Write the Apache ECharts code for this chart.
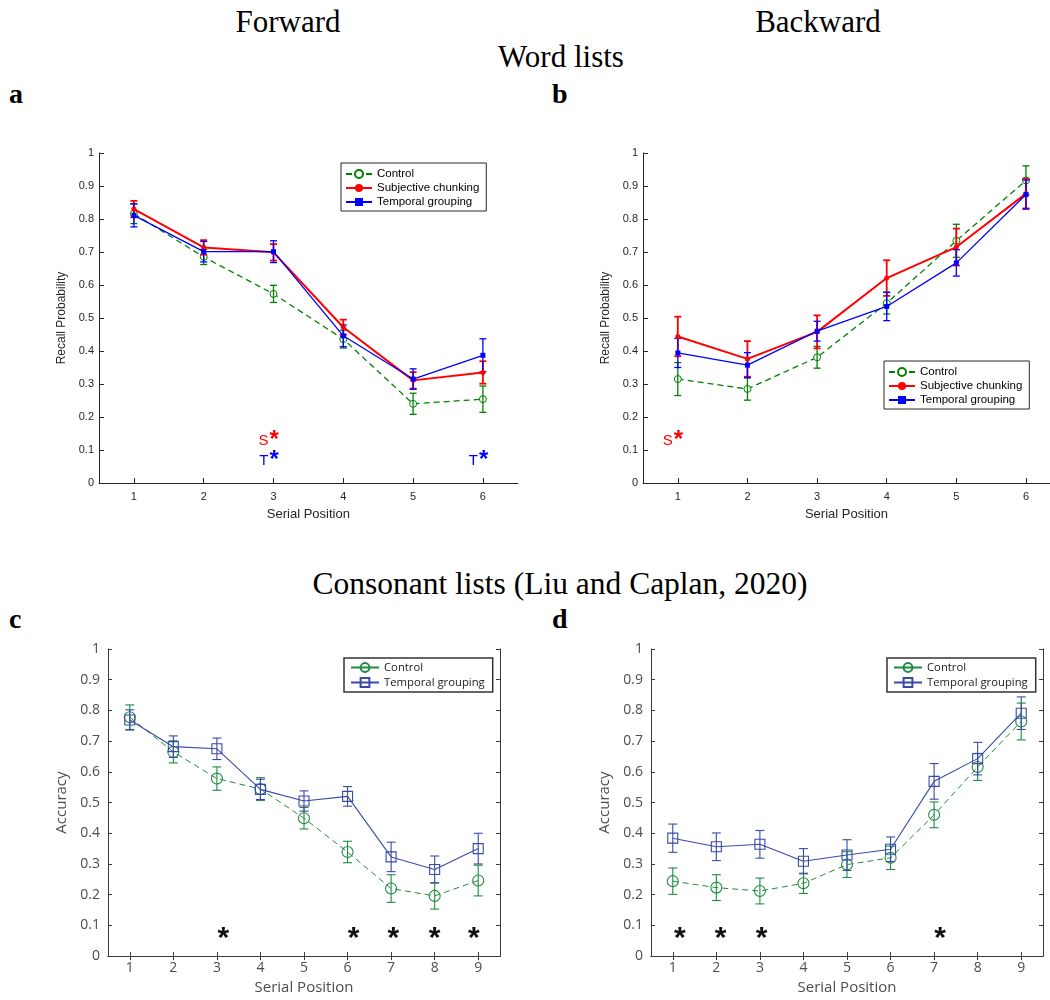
<!DOCTYPE html>
<html>
<head>
<meta charset="utf-8">
<script src="https://cdn.jsdelivr.net/npm/echarts@6/dist/echarts.min.js"></script>
<style>
body{margin:0;width:1050px;height:1000px;overflow:hidden;background:#fff;position:relative;}
.t{position:absolute;line-height:1;white-space:nowrap;color:#000;font-family:"Liberation Serif",serif;}
.lab{font-weight:bold;font-size:28px;}
.panel{position:absolute;}
</style>
</head>
<body>
<div class="t" style="left:188px;width:200px;text-align:center;top:6px;font-size:31px">Forward</div>
<div class="t" style="left:718px;width:200px;text-align:center;top:6px;font-size:31px">Backward</div>
<div class="t" style="left:361px;width:400px;text-align:center;top:41px;font-size:31px">Word lists</div>
<div class="t lab" style="left:9px;top:80px">a</div>
<div class="t lab" style="left:552px;top:80px">b</div>
<div class="t" style="left:160px;width:800px;text-align:center;top:568px;font-size:31.5px">Consonant lists (Liu and Caplan, 2020)</div>
<div class="t lab" style="left:9px;top:605px">c</div>
<div class="t lab" style="left:552px;top:605px">d</div>

<div id="panel_a" class="panel" style="left:0;top:130px;width:525px;height:400px"></div>
<div id="panel_b" class="panel" style="left:525px;top:130px;width:525px;height:400px"></div>
<div id="panel_c" class="panel" style="left:0;top:630px;width:525px;height:370px"></div>
<div id="panel_d" class="panel" style="left:525px;top:630px;width:525px;height:370px"></div>

<script>
// serial positions
var pos6 = [1, 2, 3, 4, 5, 6];
var pos9 = [1, 2, 3, 4, 5, 6, 7, 8, 9];

// word lists, forward
var fwdControl = [0.816, 0.685, 0.573, 0.436, 0.240, 0.254];
var fwdControlErr = [0.030, 0.023, 0.026, 0.027, 0.032, 0.040];
var fwdSubj = [0.830, 0.714, 0.699, 0.472, 0.311, 0.335];
var fwdSubjErr = [0.025, 0.022, 0.025, 0.023, 0.025, 0.034];
var fwdTemp = [0.811, 0.701, 0.701, 0.446, 0.315, 0.387];
var fwdTempErr = [0.035, 0.031, 0.033, 0.033, 0.031, 0.050];
var fwdSigS = [3];
var fwdSigT = [3, 6];

// word lists, backward
var bwdControl = [0.315, 0.285, 0.381, 0.545, 0.734, 0.917];
var bwdControlErr = [0.050, 0.034, 0.033, 0.033, 0.050, 0.044];
var bwdSubj = [0.444, 0.376, 0.458, 0.621, 0.715, 0.877];
var bwdSubjErr = [0.060, 0.054, 0.050, 0.054, 0.056, 0.045];
var bwdTemp = [0.394, 0.357, 0.460, 0.535, 0.667, 0.874];
var bwdTempErr = [0.044, 0.038, 0.030, 0.043, 0.040, 0.044];
var bwdSigS = [1];
var bwdSigT = [];

// consonant lists, forward
var consFwdControl = [0.778, 0.665, 0.578, 0.544, 0.449, 0.339, 0.220, 0.196, 0.246];
var consFwdControlErr = [0.040, 0.036, 0.038, 0.037, 0.035, 0.035, 0.045, 0.043, 0.050];
var consFwdTemp = [0.769, 0.682, 0.675, 0.543, 0.505, 0.520, 0.323, 0.282, 0.350];
var consFwdTempErr = [0.033, 0.035, 0.035, 0.033, 0.033, 0.032, 0.048, 0.044, 0.050];
var consFwdStars = [3.15, 6.14, 7.05, 8.0, 8.9];

// consonant lists, backward
var consBwdControl = [0.244, 0.223, 0.212, 0.237, 0.298, 0.320, 0.460, 0.616, 0.764];
var consBwdControlErr = [0.043, 0.042, 0.042, 0.033, 0.042, 0.038, 0.042, 0.044, 0.060];
var consBwdTemp = [0.384, 0.356, 0.364, 0.309, 0.329, 0.348, 0.569, 0.643, 0.791];
var consBwdTempErr = [0.046, 0.045, 0.045, 0.041, 0.050, 0.040, 0.058, 0.053, 0.053];
var consBwdStars = [1.16, 2.1, 3.04, 7.14];

var GREEN = '#008000', RED = '#ff0000', BLUE = '#0000ff';
var GREEN2 = '#1e8c40', BLUE2 = '#3a4aa8';
var SANS = '"Liberation Sans", Arial, sans-serif';
var SANS2 = '"Open Sans", "Noto Sans", sans-serif';

function pairs(xs, ys) {
    return xs.map(function (x, i) { return [x, ys[i]]; });
}

// error bars drawn through the axes
function errSeries(xs, ys, errs, color, width, cap) {
    return {
        type: 'custom',
        silent: true,
        encode: { x: 0, y: [1, 2] },
        data: xs.map(function (x, i) { return [x, ys[i] - errs[i], ys[i] + errs[i]]; }),
        renderItem: function (params, api) {
            var lo = api.coord([api.value(0), api.value(1)]);
            var hi = api.coord([api.value(0), api.value(2)]);
            var st = { stroke: color, lineWidth: width };
            return {
                type: 'group',
                children: [
                    { type: 'line', shape: { x1: lo[0], y1: lo[1], x2: hi[0], y2: hi[1] }, style: st },
                    { type: 'line', shape: { x1: lo[0] - cap, y1: lo[1], x2: lo[0] + cap, y2: lo[1] }, style: st },
                    { type: 'line', shape: { x1: hi[0] - cap, y1: hi[1], x2: hi[0] + cap, y2: hi[1] }, style: st }
                ]
            };
        },
        z: 3
    };
}

// "S*" / "T*" significance marks (word lists)
function sigSeries(xs, letter, level, color) {
    return {
        type: 'custom',
        silent: true,
        data: xs.map(function (x) { return [x, level]; }),
        renderItem: function (params, api) {
            var c = api.coord([api.value(0), api.value(1)]);
            return {
                type: 'group',
                children: [
                    { type: 'text', x: c[0] - 5, y: c[1] - 13, style: { text: letter, fill: color, font: '15px ' + SANS, align: 'right', verticalAlign: 'top' } },
                    { type: 'text', x: c[0] - 4, y: c[1] - 18, style: { text: '*', fill: color, font: 'bold 24px ' + SANS, align: 'left', verticalAlign: 'top' } }
                ]
            };
        },
        z: 5
    };
}

// black stars (consonant lists)
function starSeries(xs, level) {
    return {
        type: 'custom',
        silent: true,
        data: xs.map(function (x) { return [x, level]; }),
        renderItem: function (params, api) {
            var c = api.coord([api.value(0), api.value(1)]);
            return {
                type: 'text', x: c[0], y: c[1] - 6,
                style: { text: '*', fill: '#111', font: 'bold 30px ' + SANS, align: 'center', verticalAlign: 'top' }
            };
        },
        z: 5
    };
}

function wordOption(xMax, legendPos, ctl, ctlErr, subj, subjErr, temp, tempErr, sigS, sigT, gridLeft) {
    var axisCol = '#262626';
    return {
        animation: false,
        grid: { left: gridLeft, top: 23, width: (xMax - 0.5) * 69.8, height: 330 },
        xAxis: {
            type: 'value', min: 0.5, max: xMax,
            name: 'Serial Position', nameLocation: 'middle', nameGap: 25,
            nameTextStyle: { fontSize: 13, color: axisCol, fontFamily: SANS },
            axisLine: { show: true, lineStyle: { color: axisCol, width: 1 } },
            axisTick: { show: true, inside: true, length: 5, customValues: pos6, lineStyle: { color: axisCol } },
            axisLabel: { customValues: pos6, fontSize: 11, color: axisCol, fontFamily: SANS, margin: 8 },
            splitLine: { show: false }
        },
        yAxis: {
            type: 'value', min: 0, max: 1, interval: 0.1,
            name: 'Recall Probability', nameLocation: 'middle', nameGap: 21,
            nameTextStyle: { fontSize: 12, color: axisCol, fontFamily: SANS },
            axisLine: { show: true, lineStyle: { color: axisCol, width: 1 } },
            axisTick: { show: true, inside: true, length: 5, lineStyle: { color: axisCol } },
            axisLabel: { fontSize: 11, color: axisCol, fontFamily: SANS, margin: 5 },
            splitLine: { show: false }
        },
        legend: {
            left: legendPos[0], top: legendPos[1], orient: 'vertical',
            itemWidth: 26, itemHeight: 10, itemGap: 2, padding: [5, 7, 3, 4],
            borderColor: axisCol, borderWidth: 1, backgroundColor: '#fff',
            textStyle: { fontSize: 11.5, color: '#000', fontFamily: SANS },
            data: ['Control', 'Subjective chunking', 'Temporal grouping']
        },
        series: [
            { name: 'Control', type: 'line', data: pairs(pos6, ctl), symbol: 'circle', symbolSize: 7,
              itemStyle: { color: '#fff', borderColor: GREEN, borderWidth: 1 },
              lineStyle: { color: GREEN, width: 1.3, type: [6, 4] }, z: 2 },
            errSeries(pos6, ctl, ctlErr, GREEN, 1.3, 3.5),
            { name: 'Subjective chunking', type: 'line', data: pairs(pos6, subj), symbol: 'circle', symbolSize: 5,
              itemStyle: { color: RED }, lineStyle: { color: RED, width: 2 }, z: 3 },
            errSeries(pos6, subj, subjErr, RED, 1.8, 3.5),
            { name: 'Temporal grouping', type: 'line', data: pairs(pos6, temp), symbol: 'rect', symbolSize: 5,
              itemStyle: { color: BLUE }, lineStyle: { color: BLUE, width: 1.3 }, z: 4 },
            errSeries(pos6, temp, tempErr, BLUE, 1.3, 3.5),
            sigSeries(sigS, 'S', 0.112, RED),
            sigSeries(sigT, 'T', 0.05, BLUE)
        ]
    };
}

function consOption(gridLeft, legendPos, ctl, ctlErr, temp, tempErr, stars) {
    var axisCol = '#3a3a3a', labCol = '#4d4d4d';
    return {
        animation: false,
        grid: { left: gridLeft, top: 19, width: 392, height: 310 },
        xAxis: [{
            type: 'value', min: 0.5, max: 9.5,
            name: 'Serial Position', nameLocation: 'middle', nameGap: 22,
            nameTextStyle: { fontSize: 15, color: labCol, fontFamily: SANS2 },
            axisLine: { show: true, lineStyle: { color: axisCol, width: 1 } },
            axisTick: { show: true, inside: true, length: 4, customValues: pos9, lineStyle: { color: axisCol } },
            axisLabel: { customValues: pos9, fontSize: 14, color: labCol, fontFamily: SANS2, margin: 5 },
            splitLine: { show: false }
        }, {
            type: 'value', min: 0.5, max: 9.5, position: 'top',
            axisLine: { show: true, lineStyle: { color: axisCol, width: 1 } },
            axisTick: { show: true, inside: true, length: 4, customValues: pos9, lineStyle: { color: axisCol } },
            axisLabel: { show: false }, splitLine: { show: false }
        }],
        yAxis: [{
            type: 'value', min: 0, max: 1, interval: 0.1,
            name: 'Accuracy', nameLocation: 'middle', nameGap: 27,
            nameTextStyle: { fontSize: 15, color: labCol, fontFamily: SANS2 },
            axisLine: { show: true, lineStyle: { color: axisCol, width: 1 } },
            axisTick: { show: true, inside: true, length: 4, lineStyle: { color: axisCol } },
            axisLabel: { fontSize: 14, color: labCol, fontFamily: SANS2, margin: 8 },
            splitLine: { show: false }
        }, {
            type: 'value', min: 0, max: 1, interval: 0.1, position: 'right',
            axisLine: { show: true, lineStyle: { color: axisCol, width: 1 } },
            axisTick: { show: true, inside: true, length: 4, lineStyle: { color: axisCol } },
            axisLabel: { show: false }, splitLine: { show: false }
        }],
        legend: {
            left: legendPos[0], top: legendPos[1], orient: 'vertical',
            itemWidth: 28, itemHeight: 11, itemGap: 4, padding: [4, 8, 4, 6],
            borderColor: '#333', borderWidth: 1.5, backgroundColor: '#fff',
            textStyle: { fontSize: 11.3, color: '#222', fontFamily: SANS2 },
            data: [
                { name: 'Control', lineStyle: { type: 'solid' } },
                'Temporal grouping'
            ]
        },
        series: [
            { name: 'Control', type: 'line', data: pairs(pos9, ctl), symbol: 'circle', symbolSize: 11,
              itemStyle: { color: 'rgba(255,255,255,0)', borderColor: GREEN2, borderWidth: 1.1 },
              lineStyle: { color: GREEN2, width: 1, type: [6, 4] }, z: 2 },
            errSeries(pos9, ctl, ctlErr, GREEN2, 1.1, 4.5),
            { name: 'Temporal grouping', type: 'line', data: pairs(pos9, temp), symbol: 'rect', symbolSize: 10,
              itemStyle: { color: 'rgba(255,255,255,0)', borderColor: BLUE2, borderWidth: 1.1 },
              lineStyle: { color: BLUE2, width: 1.1 }, z: 3 },
            errSeries(pos9, temp, tempErr, BLUE2, 1.1, 4.5),
            starSeries(stars, 0.085)
        ]
    };
}

var chartA = echarts.init(document.getElementById('panel_a'));
chartA.setOption(wordOption(6.5, [341, 33], fwdControl, fwdControlErr, fwdSubj, fwdSubjErr, fwdTemp, fwdTempErr, fwdSigS, fwdSigT, 99));

var chartB = echarts.init(document.getElementById('panel_b'));
chartB.setOption(wordOption(6.345, [359, 231], bwdControl, bwdControlErr, bwdSubj, bwdSubjErr, bwdTemp, bwdTempErr, bwdSigS, bwdSigT, 118));

var chartC = echarts.init(document.getElementById('panel_c'));
chartC.setOption(consOption(108, [344, 28], consFwdControl, consFwdControlErr, consFwdTemp, consFwdTempErr, consFwdStars));

var chartD = echarts.init(document.getElementById('panel_d'));
chartD.setOption(consOption(126, [362, 28], consBwdControl, consBwdControlErr, consBwdTemp, consBwdTempErr, consBwdStars));
</script>
</body>
</html>
